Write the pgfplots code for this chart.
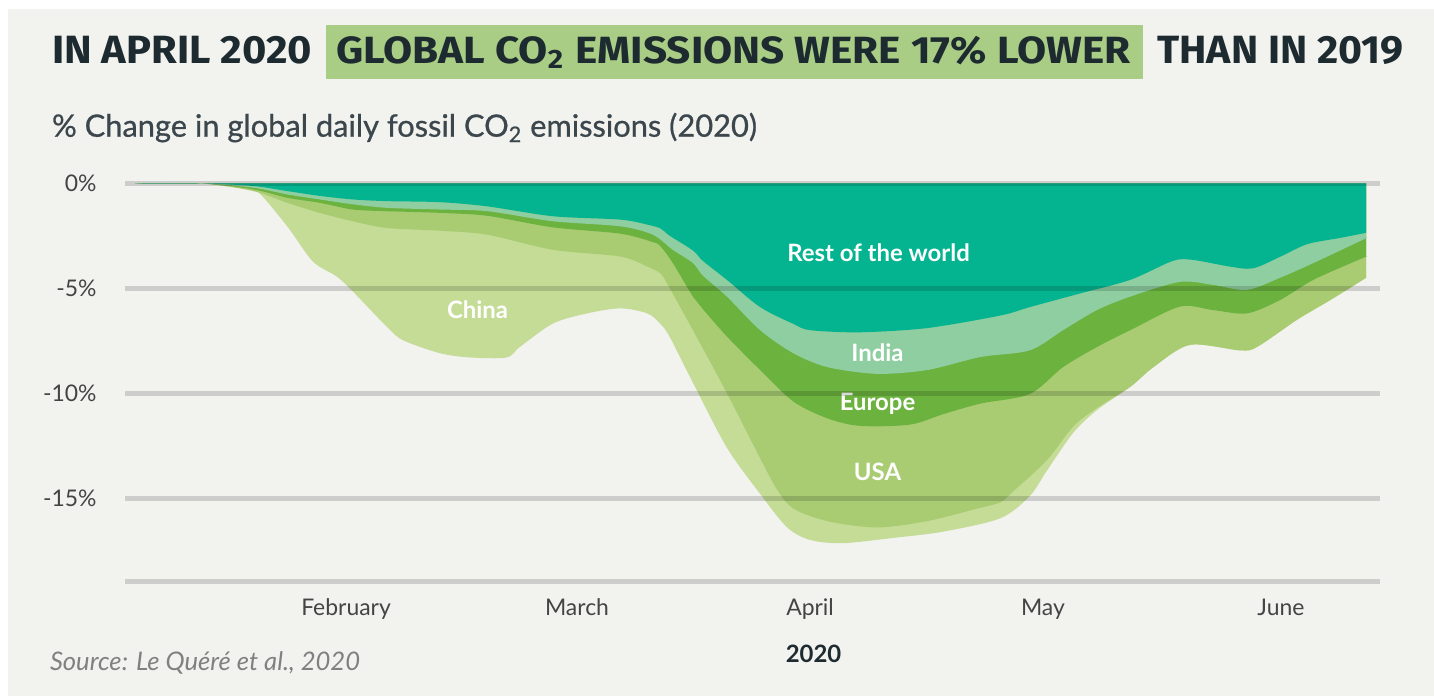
\documentclass[border=0pt]{standalone}
\usepackage{pgfplots}
\pgfplotsset{compat=1.18}
\usepgfplotslibrary{fillbetween}
\usepackage{fontspec}
\usepackage{graphicx}
\setmainfont{Lato}
\newfontfamily\titlefont{Fira Sans}
\newfontfamily\subfont[FakeBold=0.7]{Lato}
\definecolor{panel}{HTML}{F2F2EF}
\definecolor{hl}{HTML}{A9CD85}
\definecolor{titlecol}{HTML}{1D2B30}
\definecolor{subcol}{HTML}{3B474D}
\definecolor{tickcol}{HTML}{444444}
\definecolor{srccol}{HTML}{808080}
\definecolor{cRow}{HTML}{04B490}
\definecolor{cIndia}{HTML}{8FCEA0}
\definecolor{cEurope}{HTML}{6CB23F}
\definecolor{cUSA}{HTML}{A9CC73}
\definecolor{cChina}{HTML}{C4DC96}
\begin{document}
\begin{tikzpicture}
\fill[white] (0,0) rectangle (717bp,348bp);
\fill[panel] (4bp,0) rectangle (717bp,343.5bp);
% title
\node[anchor=base west, inner sep=0, text=titlecol] at (25.85bp,316.35bp)
  {\resizebox{130bp}{13.65bp}{\titlefont\bfseries IN APRIL 2020}};
\fill[hl] (163bp,308.35bp) rectangle (571.5bp,335.5bp);
\node[anchor=base west, inner sep=0, text=titlecol] at (168bp,316.35bp)
  {\resizebox{397bp}{13.65bp}{\titlefont\bfseries GLOBAL CO\textsubscript{2} EMISSIONS WERE 17\% LOWER}};
\node[anchor=base west, inner sep=0, text=titlecol] at (578.5bp,316.35bp)
  {\resizebox{123bp}{13.65bp}{\titlefont\bfseries THAN IN 2019}};
% subtitle
\node[anchor=base west, inner sep=0, text=subcol] at (25.85bp,279.65bp)
  {\resizebox{352.5bp}{!}{\subfont\fontsize{15}{18}\selectfont \% Change in global daily fossil CO\textsubscript{2} emissions (2020)}};
\begin{axis}[
  at={(62.5bp,57bp)}, anchor=south west,
  scale only axis, width=627.5bp, height=199.35bp,
  xmin=-1.294, xmax=161.12, ymin=-19, ymax=0,
  axis line style={draw=none}, tick style={draw=none},
  ytick={0,-5,-10,-15,-19}, yticklabels={0\%,-5\%,-10\%,-15\%,{}},
  xtick={27.31,57.2,87.36,117.5,148.3},
  xticklabels={February,March,April,May,June},
  ymajorgrids, grid style={line width=2.5bp, black, opacity=0.15},
  axis on top,
  fill between/on layer=main,
  ticklabel style={font=\fontsize{11.5}{13}\selectfont, text=tickcol},
  yticklabel style={anchor=east, inner sep=0pt, xshift=-14bp},
  xticklabel style={anchor=base, inner sep=0pt, yshift=-17bp},
]
\addplot[name path=zero, draw=none] coordinates {(0,0) (159.32,0)};
% China bottom (total)
\addplot[name path=china, draw=none, smooth, tension=0.5] coordinates {
(0,0) (9.7,0) (13.2,-0.05) (15.8,-0.37) (19.7,-2.05) (23.0,-3.72) (26.1,-4.44)
(28.2,-5.16) (32.6,-6.84) (34.7,-7.48) (39.5,-8.1) (43.4,-8.3) (48.1,-8.3)
(49.8,-7.8) (54.1,-6.68) (58.5,-6.2) (62.8,-5.96) (66.3,-6.2) (68.0,-6.7)
(69.2,-7.32) (72.2,-9.5) (76.6,-12.6) (80.9,-14.8) (84.4,-16.4) (87.4,-17.0)
(91.6,-17.15) (98.1,-16.9) (104.6,-16.6) (112.0,-15.96) (115.8,-14.9)
(118.0,-13.7) (121.4,-11.9) (124.5,-10.8) (128.8,-9.7) (131.8,-8.76)
(136.5,-7.7) (143.0,-7.96) (145.2,-7.8) (150.4,-6.5) (154.7,-5.56)
(158.9,-4.6) (159.32,-4.5)};
% USA bottom
\addplot[name path=usa, draw=none, smooth, tension=0.5] coordinates {
(0,0) (8.4,0) (15.3,-0.37) (19.7,-0.93) (23.9,-1.41) (28.2,-1.81) (32.6,-2.13)
(39.5,-2.26) (45.6,-2.45) (54.1,-3.17) (62.8,-3.49) (66.3,-3.97) (68.0,-4.3)
(69.2,-5.0) (72.5,-7.2) (76.6,-10.0) (80.9,-13.1) (83.1,-14.6) (85.2,-15.5)
(89.6,-16.1) (96.0,-16.4) (102.5,-16.1) (109.0,-15.5) (112.0,-15.2)
(113.6,-14.7) (118.0,-13.2) (121.4,-11.6) (124.5,-10.7) (128.8,-9.7)
(131.8,-8.76) (136.5,-7.7) (143.0,-7.96) (145.2,-7.8) (150.4,-6.5)
(154.7,-5.56) (158.9,-4.6) (159.32,-4.5)};
% Europe bottom
\addplot[name path=europe, draw=none, smooth, tension=0.5] coordinates {
(0,0) (8.4,0) (15.3,-0.29) (19.7,-0.69) (23.9,-0.93) (28.2,-1.25) (32.6,-1.33)
(39.5,-1.41) (45.6,-1.55) (54.1,-2.1) (62.8,-2.4) (67.0,-2.8) (68.0,-3.0)
(69.6,-3.8) (72.2,-5.4) (73.5,-6.0) (76.6,-7.3) (80.9,-8.9) (85.2,-10.4)
(89.6,-11.2) (93.8,-11.56) (100.3,-11.5) (104.6,-11.0) (109.4,-10.5)
(115.8,-10.04) (120.1,-8.76) (124.5,-7.8) (128.8,-7.0) (135.2,-5.88)
(139.5,-6.04) (143.9,-6.2) (148.2,-5.56) (152.5,-4.6) (158.9,-3.56) (159.32,-3.5)};
% India bottom
\addplot[name path=india, draw=none, smooth, tension=0.5] coordinates {
(0,0) (8.4,0) (15.3,-0.21) (19.7,-0.53) (23.9,-0.77) (28.2,-1.0) (32.6,-1.17)
(39.5,-1.25) (45.6,-1.33) (54.1,-1.81) (62.8,-2.05) (67.0,-2.45) (69.6,-3.17)
(72.2,-3.8) (73.5,-4.4) (76.6,-5.4) (80.9,-7.0) (85.2,-8.1) (89.6,-8.76)
(96.0,-9.08) (102.5,-8.9) (109.4,-8.28) (115.8,-7.96) (120.1,-7.0)
(124.5,-6.04) (128.8,-5.4) (135.2,-4.7) (139.5,-4.84) (143.9,-5.08)
(148.2,-4.5) (152.5,-3.8) (158.9,-2.69) (159.32,-2.6)};
% Rest of the world bottom
\addplot[name path=row, draw=none, smooth, tension=0.5] coordinates {
(0,0) (8.4,0) (15.3,-0.13) (19.7,-0.37) (23.9,-0.6) (28.2,-0.77) (32.6,-0.85)
(39.5,-0.9) (45.6,-1.1) (54.1,-1.57) (62.8,-1.73) (66.3,-1.97) (68.0,-2.15)
(69.2,-2.5) (72.2,-3.2) (73.5,-3.7) (76.6,-4.6) (80.9,-5.9) (85.2,-6.7)
(87.4,-7.0) (93.8,-7.1) (102.5,-6.9) (112.0,-6.3) (115.8,-5.9) (122.3,-5.25)
(128.8,-4.6) (134.3,-3.7) (136.9,-3.65) (141.7,-3.97) (144.7,-4.05)
(148.2,-3.5) (151.7,-2.9) (156.0,-2.6) (159.32,-2.36)};
\addplot[fill=cChina, draw=none] fill between[of=zero and china];
\addplot[fill=cUSA, draw=none] fill between[of=zero and usa];
\addplot[fill=cEurope, draw=none] fill between[of=zero and europe];
\addplot[fill=cIndia, draw=none] fill between[of=zero and india];
\addplot[fill=cRow, draw=none] fill between[of=zero and row];
\end{axis}
% area labels
\begin{scope}[every node/.style={anchor=base, inner sep=0, text=white, font=\fontsize{12}{14}\selectfont\bfseries}]
\node at (439.25bp,217.1bp) {Rest of the world};
\node at (238.75bp,188.75bp) {China};
\node at (438.75bp,167.4bp) {India};
\node at (438.75bp,142.9bp) {Europe};
\node at (438.75bp,107.9bp) {USA};
\end{scope}
\node[anchor=center, inner sep=0, text=titlecol, font=\fontsize{12}{14}\selectfont\bfseries] at (406.75bp,21.25bp) {2020};
\node[anchor=west, inner sep=0, text=srccol] at (24.8bp,16.5bp) {\resizebox{155bp}{!}{\fontsize{12}{14}\selectfont\itshape Source: Le Quéré et al., 2020}};
\end{tikzpicture}
\end{document}
